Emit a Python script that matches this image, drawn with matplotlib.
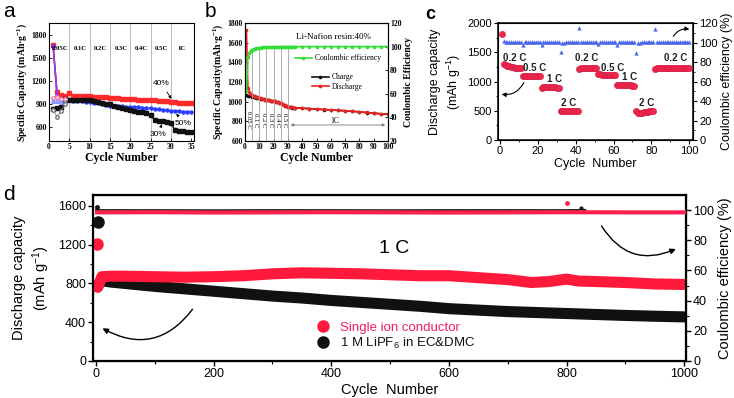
import numpy as np
import matplotlib.pyplot as plt
from matplotlib.lines import Line2D

plt.rcParams['font.family'] = ['Liberation Sans', 'DejaVu Sans']
plt.rcParams['mathtext.fontset'] = 'custom'
plt.rcParams['mathtext.rm'] = 'Liberation Sans'
plt.rcParams['mathtext.default'] = 'regular'

# ---------------- panel a : capacity vs cycle, three resin contents
cyc_a = list(range(1, 36))
cap_40 = [1660, 1050, 1015, 1010, 1038, 1010, 1005, 1005, 1000, 1005, 995, 990, 988, 985, 981,
          978, 975, 970, 965, 961, 960, 958, 955, 953, 952, 948, 945, 942, 938, 930,
          920, 915, 912, 910, 909]
cap_50 = [1650, 1000, 970, 960, 950, 945, 940, 935, 930, 925, 918, 910, 900, 890, 880,
          878, 874, 870, 867, 865, 862, 858, 853, 848, 844, 838, 832, 825, 818, 810,
          805, 803, 802, 800, 800]
cap_30 = [830, 845, 860, 965, 955, 955, 953, 952, 952, 950, 940, 930, 918, 905, 896,
          880, 865, 850, 835, 822, 810, 800, 790, 780, 757, 692, 685, 675, 670, 650,
          565, 555, 548, 543, 540]
cyc_open = [1, 2, 3, 4]
open_40 = [975, 990, 970, 965]
open_50 = [945, 935, 925, 925]
open_30 = [820, 735, 810, 900]
rates_a = ['0.05C', '0.1C', '0.2C', '0.3C', '0.4C', '0.5C', '1C']

# ---------------- panel b : Li-Nafion resin 40 %
cyc_b = list(range(1, 36)) + list(range(40, 101, 5))
dis_b = [1729, 1136, 1101, 1080, 1068, 1062, 1055, 1050, 1045, 1040, 1036, 1032, 1027, 1022, 1017,
         1015, 1013, 1011, 1009, 1007, 1004, 1000, 995, 990, 983, 978, 970, 962, 955, 949,
         945, 943, 941, 940, 939,
         934, 930, 925, 921, 917, 913, 908, 903, 897, 890, 884, 877, 875]
chg_b = [1068, 1060, 1057, 1054, 1051, 1048, 1045, 1041, 1037, 1034, 1030, 1027, 1024, 1020, 1017,
         1014, 1012, 1010, 1008, 1006, 1003, 999, 994, 989, 982, 977, 969, 961, 954, 948,
         944, 942, 940, 939, 938,
         933, 929, 924, 920, 916, 912, 907, 902, 896, 889, 883, 876, 874]
ce_b = [62, 91, 95, 96.5, 97.5, 98, 98.3, 98.6, 98.8, 99, 99.2, 99.3, 99.4, 99.5, 99.6,
        99.6, 99.7, 99.7, 99.8, 99.8, 99.8, 99.8, 99.9, 99.9, 99.9, 99.9, 99.9, 99.9, 100, 100,
        100, 100, 100, 100, 100,
        100, 100, 100, 100, 100, 100, 100, 100, 100, 100, 100, 100, 100]
rates_b = ['0.05 C', '0.1 C', '0.2 C', '0.3 C', '0.4 C', '0.5 C']

# ---------------- panel c : rate capability
cyc_c = list(range(1, 101))
cap_c = [1820,
         1300, 1285, 1270, 1260, 1250, 1245, 1240, 1235, 1230, 1230,
         1100, 1100, 1095, 1095, 1095, 1095, 1095, 1095, 1095, 1100,
         890, 900, 905, 905, 905, 905, 905, 900, 895, 890,
         505, 500, 500, 500, 500, 500, 500, 500, 500, 495,
         1220, 1230, 1235, 1235, 1235, 1235, 1235, 1235, 1230, 1230,
         1130, 1125, 1120, 1120, 1120, 1120, 1120, 1120, 1115, 1115,
         950, 945, 940, 940, 935, 935, 935, 935, 930, 930,
         500, 470, 460, 465, 475, 480, 485, 490, 490, 495,
         1220, 1225, 1225, 1225, 1225, 1225, 1225, 1225, 1225, 1225,
         1225, 1225, 1225, 1225, 1225, 1225, 1225, 1225, 1225]
cyc_ce_c = list(range(2, 101))
ce_c = [101.5, 101, 101, 101, 101, 101, 101, 101, 101, 101,
        98, 101, 101, 101, 101, 101, 101, 101, 101, 101,
        98, 101, 101, 101, 101, 101, 101, 101, 101, 101,
        90, 100, 100, 101, 101, 101, 101, 101, 101, 101,
        115, 101, 101, 101, 101, 101, 101, 101, 101, 101,
        98.5, 101, 101, 101, 101, 101, 101, 101, 101, 101,
        97.5, 101, 101, 101, 101, 101, 101, 101, 101, 101,
        89, 100, 100, 101, 101, 101, 101, 101, 101, 101,
        114, 101, 101, 101, 101, 101, 101, 101, 101, 101,
        101, 101, 101, 101, 101, 101, 101, 101, 101]
rate_lbl_c = ['0.2 C', '0.5 C', '1 C', '2 C', '0.2 C', '0.5 C', '1 C', '2 C', '0.2 C']
rate_x_c = [8, 18.5, 28.6, 36.5, 46, 59.5, 68.7, 77.5, 92.9]
rate_y_c = [1407, 1225, 1037, 627, 1396, 1236, 1072, 627, 1396]

# ---------------- panel d : long cycling at 1 C
cyc_sic = [3, 10, 25, 50, 100, 150, 200, 250, 300, 350, 400, 450, 500, 550, 600,
           650, 700, 740, 770, 800, 820, 850, 900, 950, 1000]
cap_sic = [760, 870, 875, 875, 870, 865, 870, 880, 900, 910, 905, 900, 890, 880, 880,
           860, 840, 810, 820, 845, 825, 820, 810, 795, 790]
cyc_lipf = [3, 10, 25, 50, 100, 150, 200, 250, 300, 350, 400, 450, 500, 550, 600,
            650, 700, 750, 800, 850, 900, 950, 1000]
cap_lipf = [780, 830, 815, 800, 770, 745, 720, 695, 670, 650, 625, 605, 585, 565, 540,
            525, 510, 500, 490, 480, 470, 462, 455]
first_sic = 1210
first_lipf = 1435
cyc_ce_sic = [2, 100, 200, 300, 400, 500, 600, 700, 800, 900, 1000]
ce_sic = [98.5, 98.6, 98.4, 98.5, 98.6, 98.5, 98.4, 98.5, 98.6, 98.5, 98.5]
cyc_ce_lipf = [2, 100, 200, 300, 400, 500, 600, 700, 800, 830]
ce_lipf = [99.3, 99.3, 99.2, 99.3, 99.3, 99.2, 99.3, 99.3, 99.3, 99.4]

fig = plt.figure(figsize=(7.34, 3.98), dpi=100)

serif = dict(family='Liberation Serif', weight='bold')

# ======================= a
axa = fig.add_axes([0.0668, 0.6457, 0.1975, 0.2965])
for x in range(5, 35, 5):
    axa.axvline(x, color='#b0b0b0', lw=0.6, zorder=0)
axa.plot(cyc_a, cap_40, '-s', color='#ff2a2a', ms=2.2, lw=1)
axa.plot(cyc_a, cap_50, '-o', color='#2a3cff', ms=2.2, lw=1)
axa.plot(cyc_a, cap_30, '-s', color='#111111', ms=2.2, lw=1)
axa.plot(cyc_a[:2], [cap_40[0], cap_50[1]], '-', color='#9a3ad8', lw=1.2)
axa.plot(cyc_open, open_40, '-o', color='#ff7aa0', mfc='white', ms=2.5, lw=0.6)
axa.plot(cyc_open, open_50, '-^', color='#7a8cff', mfc='white', ms=2.5, lw=0.6)
axa.plot(cyc_open, open_30, '-o', color='#777777', mfc='white', ms=2.5, lw=0.6)
for i, r in enumerate(rates_a):
    axa.text(2.7 + 5 * i, 1620, r, ha='center', va='center', fontsize=4.8, **serif)
axa.annotate('40%', xy=(30.5, 935), xytext=(27.7, 1168), ha='center', va='center',
             fontsize=6, arrowprops=dict(arrowstyle='-|>', lw=0.6, color='k', mutation_scale=4))
axa.annotate('50%', xy=(31, 805), xytext=(33, 650), ha='center', va='center',
             fontsize=6, arrowprops=dict(arrowstyle='-|>', lw=0.6, color='k', mutation_scale=4))
axa.annotate('30%', xy=(28, 672), xytext=(26.9, 507), ha='center', va='center',
             fontsize=6, arrowprops=dict(arrowstyle='-|>', lw=0.6, color='k', mutation_scale=4))
axa.set_xlim(0, 35.7)
axa.set_ylim(420, 1950)
axa.set_xticks(range(0, 36, 5))
axa.set_yticks([600, 900, 1200, 1500, 1800])
axa.tick_params(direction='in', length=2, width=0.6, labelsize=5.5, pad=1.5)
for t in axa.get_xticklabels() + axa.get_yticklabels():
    t.set_fontproperties('Liberation Serif')
    t.set_fontweight('bold')
    t.set_fontsize(5.5)
axa.set_xlabel('Cycle Number', fontsize=8.5, labelpad=1, **serif)
axa.set_ylabel('Specific Capacity (mAh·g$^{-1}$)', fontsize=7, labelpad=2, **serif)
for s in axa.spines.values():
    s.set_linewidth(0.8)

# ======================= b
axb = fig.add_axes([0.3338, 0.6457, 0.1948, 0.2965])
axb2 = axb.twinx()
for i, x in enumerate(range(5, 35, 5)):
    axb2.vlines(x, 20, ce_b[x - 1], color='#a0a0a0', lw=0.6, zorder=0)
    axb.text(2.6 + 5 * i, 815, rates_b[i], rotation=270, ha='center', va='center',
             fontsize=4.8, family='Liberation Serif')
axb.plot(cyc_b, chg_b, '-o', color='#111111', ms=1.6, lw=1.2, label='Charge')
axb.plot(cyc_b, dis_b, '-o', color='#ee2222', ms=1.6, lw=1.2, label='Discharge')
axb2.plot(cyc_b, ce_b, '-o', color='#33dd33', ms=1.6, lw=1.2, label='Coulombic efficiency')
axb.annotate('', xy=(100, 763), xytext=(30, 763),
             arrowprops=dict(arrowstyle='<|-|>', lw=0.6, color='#777777', mutation_scale=4))
axb.text(63, 800, '1C', ha='center', va='center', fontsize=5.5, family='Liberation Serif')
axb.text(61.5, 1657, 'Li-Nafion resin:40%', ha='center', va='center', fontsize=6.5,
         family='Liberation Serif')
axb2.legend(loc='center left', bbox_to_anchor=(0.3, 0.7), frameon=False,
            handlelength=2.2, handletextpad=0.4,
            prop={'family': 'Liberation Serif', 'size': 5.5})
axb.legend(loc='center left', bbox_to_anchor=(0.42, 0.5), frameon=False,
           handlelength=2.2, handletextpad=0.4, labelspacing=0.2,
           prop={'family': 'Liberation Serif', 'size': 5.5})
axb.set_xlim(0, 100)
axb.set_ylim(600, 1800)
axb2.set_ylim(20, 120)
axb.set_xticks(range(0, 101, 10))
axb.set_yticks(range(600, 1801, 200))
axb2.set_yticks(range(20, 121, 20))
for ax in (axb, axb2):
    ax.tick_params(direction='in', length=2, width=0.6, pad=1.5)
    for t in ax.get_xticklabels() + ax.get_yticklabels():
        t.set_fontproperties('Liberation Serif')
        t.set_fontweight('bold')
        t.set_fontsize(5.5)
axb.set_xlabel('Cycle Number', fontsize=8.5, labelpad=1, **serif)
axb.set_ylabel('Specific Capacity(mAh·g$^{-1}$)', fontsize=7, labelpad=2, **serif)
axb2.set_ylabel('Coulombic Efficiency', fontsize=7, labelpad=2, **serif)
for s in axb.spines.values():
    s.set_linewidth(0.8)

# ======================= c
axc = fig.add_axes([0.6785, 0.648, 0.2657, 0.294])
axc2 = axc.twinx()
axc.plot(cyc_c, cap_c, 'o', color='#f0284e', mec='#d01840', ms=4.5, mew=0.4, zorder=3)
axc2.plot(cyc_ce_c, ce_c, '^', color='#4a66e8', ms=2.6, mew=0.3, zorder=2)
for lbl, x, y in zip(rate_lbl_c, rate_x_c, rate_y_c):
    axc.text(x, y, lbl, ha='center', va='center', fontsize=7, fontweight='bold', color='#222222')
axc.annotate('', xy=(-0.5, 790), xytext=(13.3, 1026),
             arrowprops=dict(arrowstyle='-|>', lw=0.8, color='k', mutation_scale=6,
                             connectionstyle='arc3,rad=-0.4'))
axc2.annotate('', xy=(101.5, 113), xytext=(90.8, 104),
              arrowprops=dict(arrowstyle='-|>', lw=0.8, color='k', mutation_scale=6,
                              connectionstyle='arc3,rad=-0.4'))
axc.set_xlim(-1, 102)
axc.set_ylim(0, 2000)
axc2.set_ylim(0, 120)
axc.set_xticks(range(0, 101, 20))
axc.set_xticks(range(10, 101, 20), minor=True)
axc.set_yticks(range(0, 2001, 500))
axc.set_yticks(range(250, 2000, 500), minor=True)
axc2.set_yticks(range(0, 121, 20))
axc2.set_yticks(range(10, 120, 20), minor=True)
for ax in (axc, axc2):
    ax.tick_params(which='major', direction='out', length=3, width=0.8, labelsize=8, pad=1.5)
    ax.tick_params(which='minor', direction='out', length=1.5, width=0.6)
axc.set_xlabel('Cycle  Number', fontsize=9, labelpad=1)
axc.set_ylabel('Discharge capacity\n(mAh g$^{-1}$)', fontsize=9, labelpad=3, linespacing=1.3)
axc2.set_ylabel('Coulombic efficiency (%)', fontsize=9, labelpad=2)
for s in axc.spines.values():
    s.set_linewidth(1.1)

# ======================= d
axd = fig.add_axes([0.1267, 0.093, 0.808, 0.417])
axd2 = axd.twinx()
axd.plot(cyc_lipf, cap_lipf, '-', color='#111111', lw=8, solid_capstyle='round', zorder=2)
axd.plot(cyc_sic, cap_sic, '-', color='#ff1a3c', lw=8, solid_capstyle='round', zorder=3)
axd.plot([1], [first_sic], 'o', color='#ff1a3c', ms=8, zorder=4)
axd.plot([3], [first_lipf], 'o', color='#111111', ms=8, zorder=4)
axd2.plot(cyc_ce_lipf, ce_lipf, '-', color='#222222', lw=3, zorder=2)
axd2.plot(cyc_ce_sic, ce_sic, '-', color='#ff2050', lw=3, zorder=3)
axd2.plot([800], [105], 'o', color='#ff2050', ms=2.5)
axd2.plot([825], [101.5], 'o', color='#111111', ms=2)
axd2.plot([2], [102], 'o', color='#111111', ms=2.5)
axd.text(507, 1166, '1 C', ha='center', va='center', fontsize=14)
axd.annotate('', xy=(7, 351), xytext=(167, 557),
             arrowprops=dict(arrowstyle='-|>', lw=1, color='k', mutation_scale=8,
                             connectionstyle='arc3,rad=-0.45'))
axd2.annotate('', xy=(990, 75), xytext=(857, 91),
              arrowprops=dict(arrowstyle='-|>', lw=1, color='k', mutation_scale=8,
                              connectionstyle='arc3,rad=0.45'))
handles = [Line2D([], [], ls='', marker='o', color='#ff1a3c', ms=8),
           Line2D([], [], ls='', marker='o', color='#111111', ms=8)]
axd.legend(handles, ['Single ion conductor', '1 M LiPF$_6$ in EC&DMC'],
           loc='center left', bbox_to_anchor=(0.35, 0.15), frameon=False, fontsize=9.5,
           handletextpad=0.3, labelspacing=0.15, borderpad=0.2,
           labelcolor=['#ee1e5a', '#111111'])
axd.set_xlim(-5, 1003)
axd.set_ylim(0, 1713)
axd2.set_ylim(0, 110)
axd.set_xticks(range(0, 1001, 200))
axd.set_xticks(range(100, 1000, 200), minor=True)
axd.set_yticks(range(0, 1601, 400))
axd.set_yticks(range(200, 1700, 400), minor=True)
axd2.set_yticks(range(0, 101, 20))
axd2.set_yticks(range(10, 110, 20), minor=True)
for ax in (axd, axd2):
    ax.tick_params(which='major', direction='out', length=3.5, width=1, labelsize=9, pad=1.5)
    ax.tick_params(which='minor', direction='out', length=2, width=0.8)
axd.set_xlabel('Cycle  Number', fontsize=10.5, labelpad=2)
axd.set_ylabel('Discharge capacity\n(mAh g$^{-1}$)', fontsize=10.5, labelpad=4, linespacing=1.3)
axd2.set_ylabel('Coulombic efficiency (%)', fontsize=10.5, labelpad=3)
for s in axd2.spines.values():
    s.set_linewidth(1.6)

# panel letters
fig.text(0.004, 0.995, 'a', fontsize=15, va='top')
fig.text(0.279, 0.995, 'b', fontsize=15, va='top')
fig.text(0.579, 0.985, 'c', fontsize=13, va='top', fontweight='bold')
fig.text(0.004, 0.535, 'd', fontsize=15, va='top')

fig.savefig('out.png', dpi=100)
